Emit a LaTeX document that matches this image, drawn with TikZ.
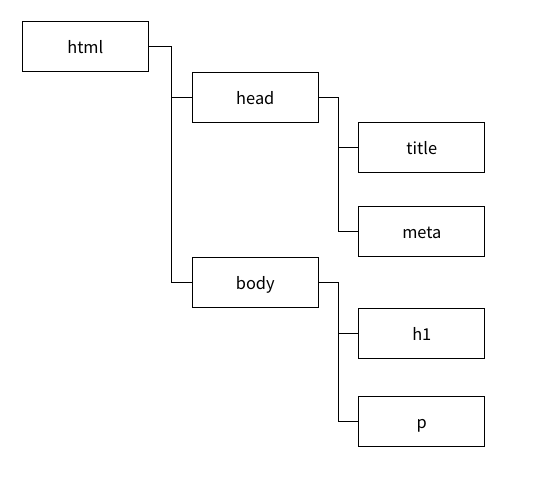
\documentclass[tikz,border=0pt]{standalone}
\usepackage{fontspec}
\setmainfont{Noto Sans CJK JP}
\begin{document}
\begin{tikzpicture}[x=0.75pt,y=-0.75pt,
  box/.style={draw,line width=0.75pt,minimum width=126*0.75pt,minimum height=50.5*0.75pt,inner sep=0pt,text height=10.8pt,text depth=0pt,font=\fontsize{12.3}{14}\selectfont},
  conn/.style={draw,line width=0.75pt}]
\useasboundingbox (0,0) rectangle (538,478);
\node[box] (html) at (85.3,46.6) {html};
\node[box] (head) at (255.3,97.3) {head};
\node[box] (title) at (421.8,147.6) {title};
\node[box] (meta) at (421.8,231.6) {meta};
\node[box] (body) at (255.3,282.6) {body};
\node[box] (h1) at (421.8,333.3) {h1};
\node[box] (p) at (421.8,421.6) {p};
\coordinate (j1) at (171,0);
\coordinate (j2) at (338.3,0);
\draw[conn] (html.east) -| (j1 |- body.west) -- (body.west);
\draw[conn] (j1 |- head.west) -- (head.west);
\draw[conn] (head.east) -| (j2 |- meta.west) -- (meta.west);
\draw[conn] (j2 |- title.west) -- (title.west);
\draw[conn] (body.east) -| (j2 |- p.west) -- (p.west);
\draw[conn] (j2 |- h1.west) -- (h1.west);
\end{tikzpicture}
\end{document}
